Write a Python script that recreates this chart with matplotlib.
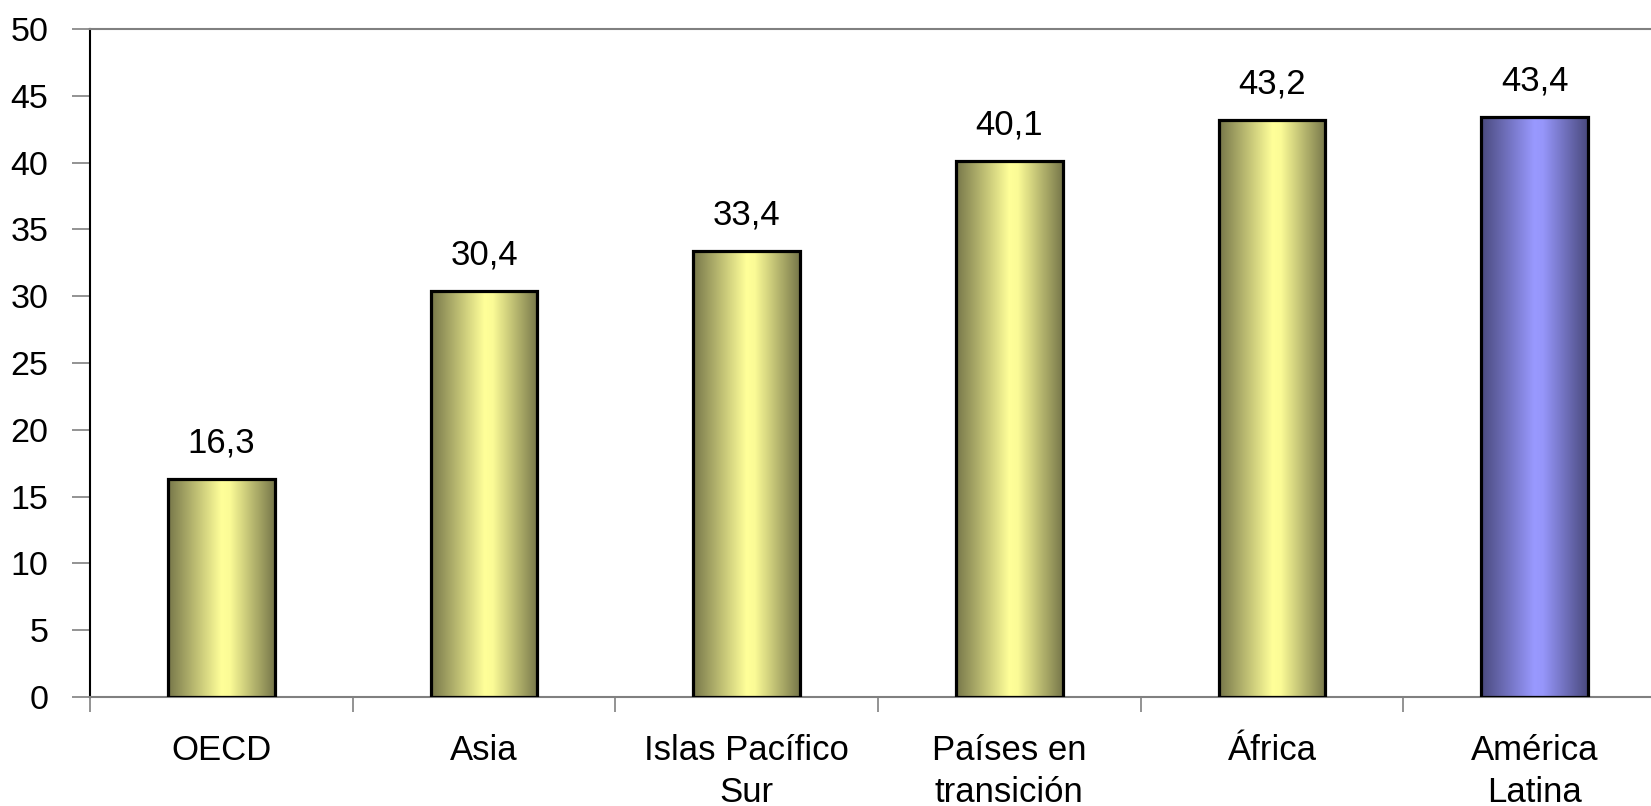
import numpy as np
import matplotlib
matplotlib.use("Agg")
import matplotlib.pyplot as plt
from matplotlib.colors import LinearSegmentedColormap

categories = ["OECD", "Asia", "Islas Pacífico\nSur", "Países en\ntransición", "África", "América\nLatina"]
values = [16.3, 30.4, 33.4, 40.1, 43.2, 43.4]
value_labels = ["16,3", "30,4", "33,4", "40,1", "43,2", "43,4"]
yticks = [0, 5, 10, 15, 20, 25, 30, 35, 40, 45, 50]
highlight = [False, False, False, False, False, True]

plt.rcParams['font.family'] = ['Liberation Sans', 'DejaVu Sans']

W, H = 1651, 806
fig = plt.figure(figsize=(W / 100, H / 100), dpi=100)
left = 90 / W
bottom = 1 - 697 / H
top = 1 - 29 / H
width = 1576 / W
ax = fig.add_axes([left, bottom, width, top - bottom])

yellow_cmap = LinearSegmentedColormap.from_list(
    "yel", [(0, "#77774a"), (0.5, "#ffff99"), (0.58, "#fbfb96"), (1, "#77774a")])
blue_cmap = LinearSegmentedColormap.from_list(
    "blu", [(0, "#4a4a7e"), (0.5, "#9999ff"), (0.58, "#9696fa"), (1, "#4a4a7e")])

x = np.arange(len(categories))
bars = ax.bar(x, values, width=0.405, color="none", edgecolor="black", linewidth=2.3, zorder=3)
grad = np.linspace(0, 1, 256).reshape(1, -1)
for b, hl in zip(bars, highlight):
    bx, by = b.get_x(), b.get_y()
    bw, bh = b.get_width(), b.get_height()
    im = ax.imshow(grad, extent=[bx, bx + bw, by, by + bh], aspect="auto",
                   cmap=blue_cmap if hl else yellow_cmap, zorder=2, interpolation="bilinear")
    im.set_clip_path(b)

for xi, v, lab in zip(x, values, value_labels):
    ax.annotate(lab, (xi, v), xytext=(0, 19), textcoords="offset points",
                ha="center", va="baseline", fontsize=25)

ax.set_xlim(-0.5, len(categories) - 0.5)
ax.set_ylim(0, 50)
ax.set_yticks(yticks)
ax.set_yticklabels([str(t) for t in yticks], fontsize=24.5)
ax.set_xticks(np.arange(len(categories) + 1) - 0.5)
ax.set_xticklabels([])
ax.set_xticks(x, minor=True)
ax.set_xticklabels(categories, minor=True, fontsize=25, linespacing=1.32)
ax.tick_params(axis="x", which="minor", length=0, pad=27)
ax.tick_params(axis="x", which="major", length=11, width=1.2, color="#808080")
ax.tick_params(axis="y", length=13, width=1.2, color="#808080", pad=17)

ax.spines["left"].set_color("black")
ax.spines["left"].set_linewidth(1.5)
ax.spines["bottom"].set_color("#808080")
ax.spines["bottom"].set_linewidth(1.5)
ax.spines["top"].set_color("#808080")
ax.spines["top"].set_linewidth(1.5)
ax.spines["right"].set_visible(False)
ax.set_facecolor("white")

fig.savefig("out.png", dpi=100)
